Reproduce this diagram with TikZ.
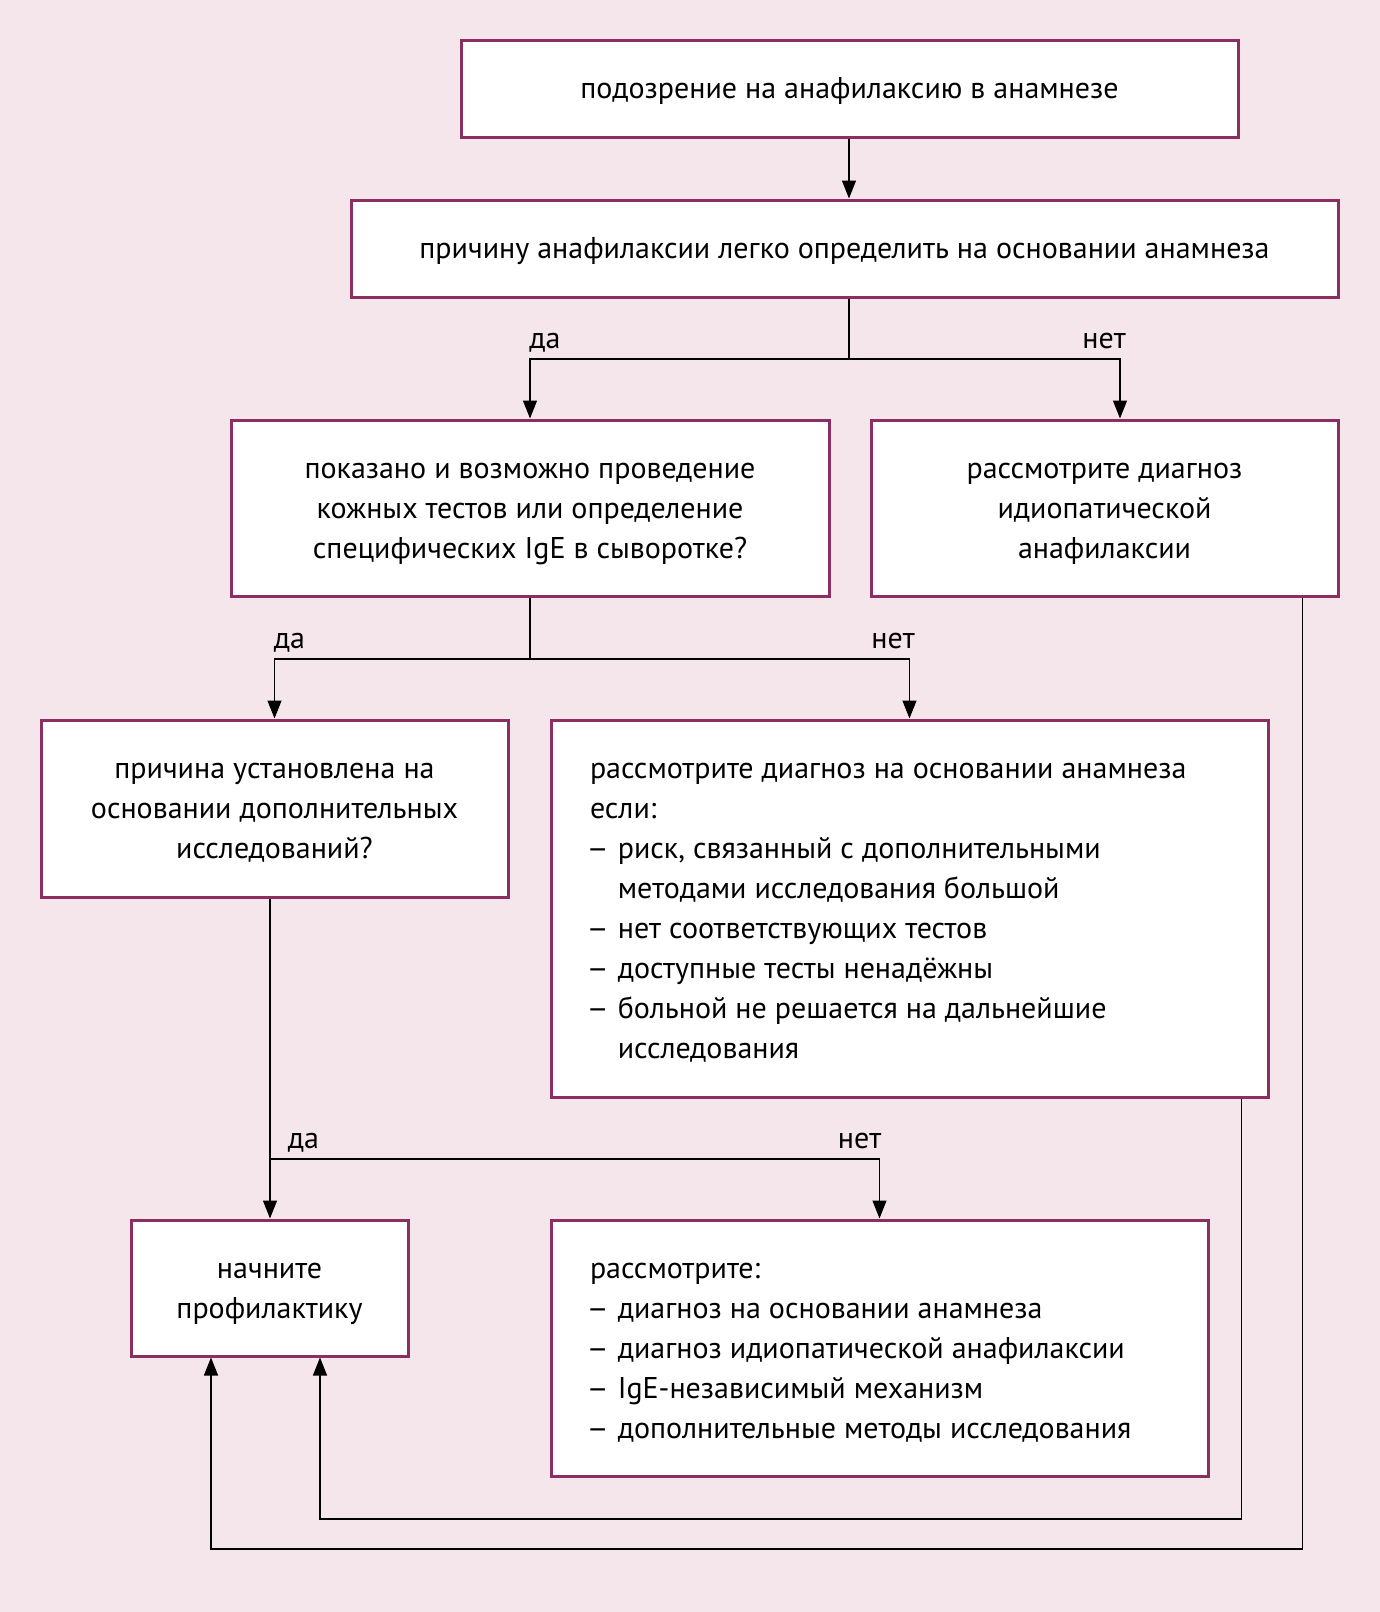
\documentclass[tikz,border=0pt]{standalone}
\usepackage{fontspec}
\setmainfont{PT Sans}
\usepackage{xcolor}
\usetikzlibrary{arrows.meta, positioning}

\definecolor{boxline}{HTML}{8B2E62}
\definecolor{paper}{HTML}{F5E6EC}
\newcommand{\listdash}{\makebox[13.9pt][l]{\hspace*{-1.8pt}\scalebox{1.15}[1]{–}}}
\newcommand{\listgap}{\hspace*{13.9pt}}

\begin{document}
\begin{tikzpicture}[x=1pt, y=-1pt, font=\fontsize{15}{20}\selectfont]
    \tikzstyle{stepbox} = [rectangle, draw=boxline, line width=1.5pt, fill=white, align=flush center, inner sep=0pt,
        execute at begin node={\rule{0pt}{15pt}}, execute at end node={\rule[-5pt]{0pt}{0pt}}]
    \tikzstyle{listbox} = [rectangle, draw=boxline, line width=1.5pt, fill=white, align=flush left, inner xsep=19.5pt, inner ysep=0pt,
        execute at begin node={\rule{0pt}{15pt}}, execute at end node={\rule[-5pt]{0pt}{0pt}}]
    \tikzstyle{arrow} = [line width=0.65pt, -{Triangle[width=7pt,length=9pt]}]
    \tikzstyle{answer} = [inner sep=0pt, anchor=base]

    \fill[paper] (0,0) rectangle (690,806);
    \useasboundingbox (0,0) rectangle (690,806);

    \node (suspect) [stepbox, text width=370pt, minimum width=388.5pt, minimum height=48.5pt] at (424.75,44.25) {подозрение на анафилаксию в анамнезе};
    \node (easycause) [stepbox, text width=470pt, minimum width=493.5pt, minimum height=48.5pt] at (422.25,124.25) {причину анафилаксии легко определить на основании анамнеза};
    \node (tests) [stepbox, text width=280pt, minimum width=299pt, minimum height=88pt] at (265,254) {показано и возможно проведение\\кожных тестов или определение\\специфических IgE в сыворотке?};
    \node (idio) [stepbox, text width=215pt, minimum width=233.5pt, minimum height=88pt] at (552.25,254) {рассмотрите диагноз\\идиопатической\\анафилаксии};
    \node (found) [stepbox, text width=215pt, minimum width=233.5pt, minimum height=88.5pt] at (137.25,404.25) {причина установлена на\\основании дополнительных\\исследований?};
    \node (history) [listbox, text width=319.5pt, minimum height=188.5pt] at (454.75,454.25) {рассмотрите диагноз на основании анамнеза\\
        если:\\
        \listdash риск, связанный с дополнительными\\
        \listgap методами исследования большой\\
        \listdash нет соответствующих тестов\\
        \listdash доступные тесты ненадёжны\\
        \listdash больной не решается на дальнейшие\\
        \listgap исследования};
    \node (prevent) [stepbox, text width=120pt, minimum width=138.5pt, minimum height=68pt] at (134.75,644) {начните\\профилактику};
    \node (consider) [listbox, text width=289.5pt, minimum height=128pt] at (439.75,674) {рассмотрите:\\
        \listdash диагноз на основании анамнеза\\
        \listdash диагноз идиопатической анафилаксии\\
        \listdash IgE-независимый механизм\\
        \listdash дополнительные методы исследования};

    % да / нет
    \node (yes1) [answer] at (272.5,174) {да};
    \node (no1) [answer] at (552,174) {нет};
    \node (yes2) [answer] at (144.7,324) {да};
    \node (no2) [answer] at (446.5,324) {нет};
    \node (yes3) [answer] at (151.7,574) {да};
    \node (no3) [answer] at (429.8,574) {нет};

    \coordinate (split1) at (424.5,179.5);
    \coordinate (split2) at (265,329.5);
    \coordinate (split3) at (135,579.5);
    \coordinate (loop1) at (160,759.5);
    \coordinate (loop2) at (105.5,774.5);

    \draw [arrow] (suspect.south -| split1) -- (easycause.north -| split1);
    \draw [line width=0.65pt] (easycause.south -| split1) -- (split1);
    \draw [arrow] (split1) -| (tests.north);
    \draw [arrow] (split1) -| ([xshift=7.75pt]idio.north);
    \draw [line width=0.65pt] (tests.south) -- (split2);
    \draw [arrow] (split2) -| (found.north);
    \draw [arrow] (split2) -| (history.north);
    \draw [arrow] (found.south -| split3) -- (prevent.north -| split3);
    \draw [arrow] (split3) -| (consider.north);
    \draw [arrow] ([xshift=-14pt]history.south east) |- (loop1) -- (loop1 |- prevent.south);
    \draw [arrow] ([xshift=-18.5pt]idio.south east) |- (loop2) -- (loop2 |- prevent.south);
\end{tikzpicture}
\end{document}
